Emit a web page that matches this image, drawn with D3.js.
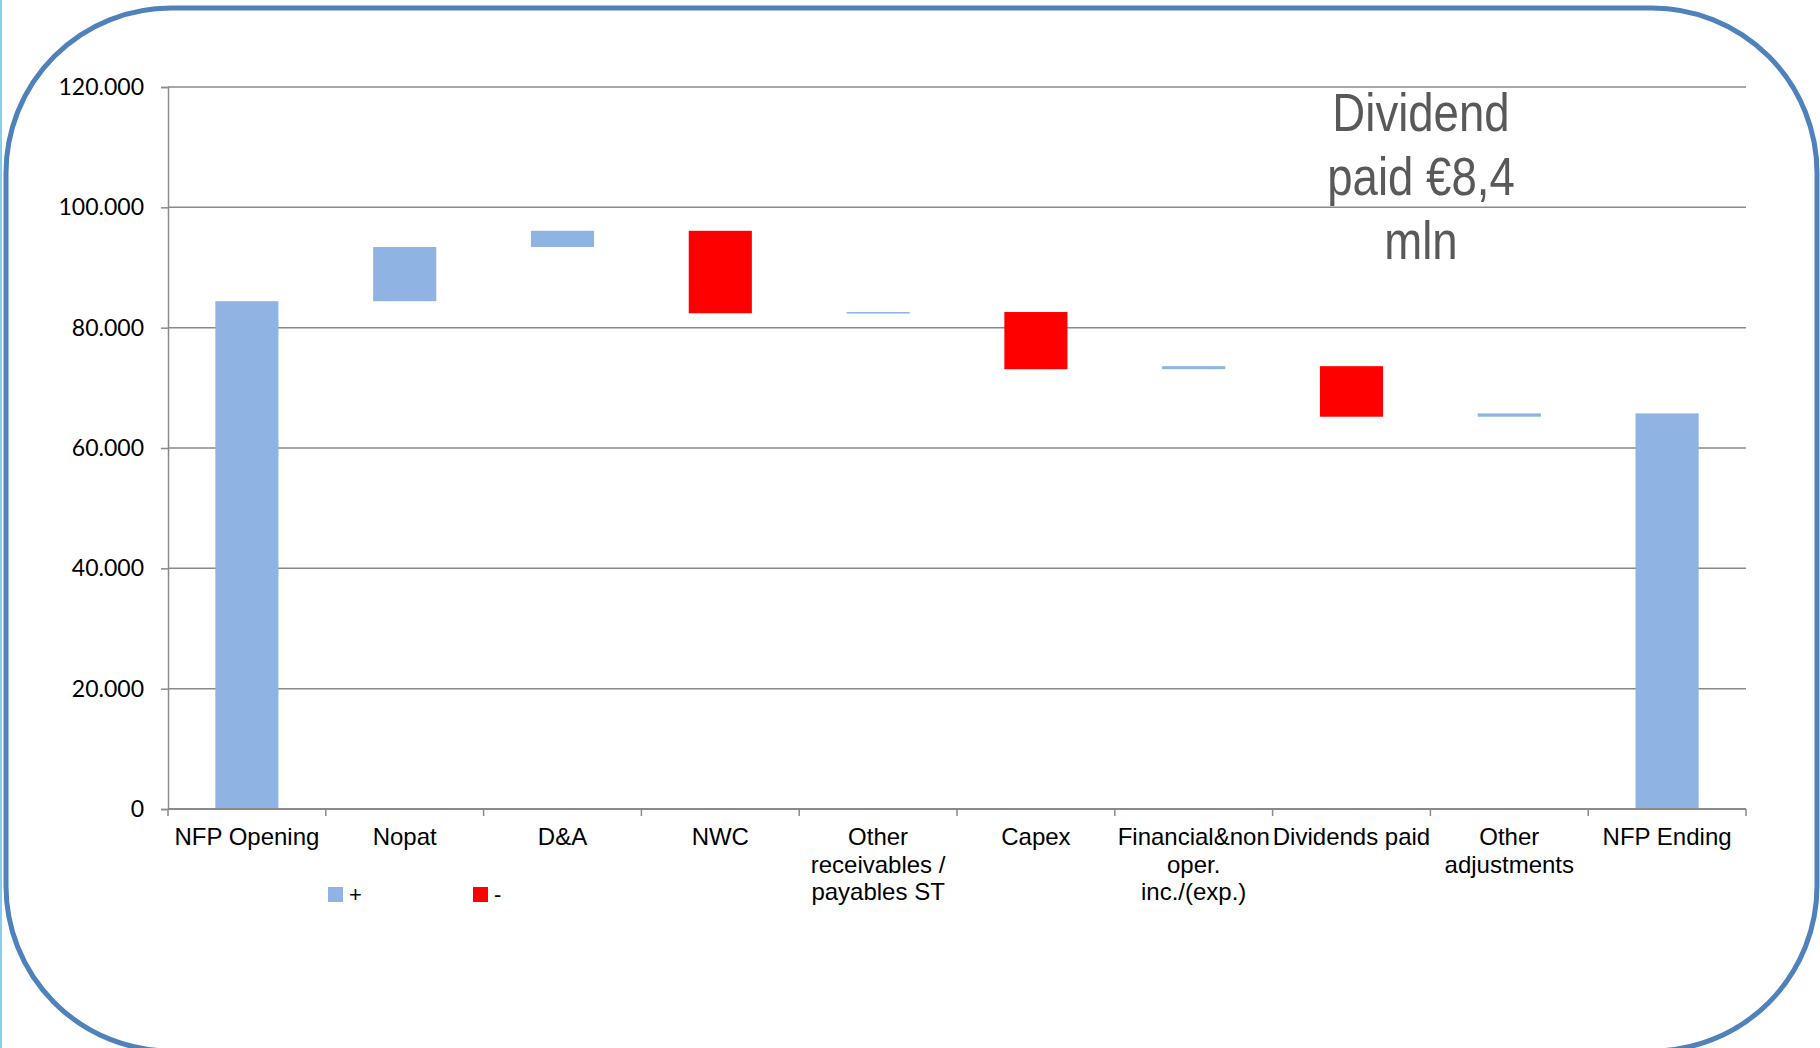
<!DOCTYPE html>
<html>
<head>
<meta charset="utf-8">
<script src="https://cdn.jsdelivr.net/npm/d3@7"></script>
<style>
  body { margin: 0; background: #fff; overflow: hidden; }
  svg { display: block; }
</style>
</head>
<body>
<figure style="margin:0"></figure>
<script>
let widthFigure = 1820;
let heightFigure = 1048;

// data (thousands of euro)
let categories = ['NFP Opening', 'Nopat', 'D&A', 'NWC', 'Other receivables / payables ST',
    'Capex', 'Financial&non oper. inc./(exp.)', 'Dividends paid', 'Other adjustments', 'NFP Ending'];
let labelLines = [['NFP Opening'], ['Nopat'], ['D&A'], ['NWC'], ['Other', 'receivables /', 'payables ST'],
    ['Capex'], ['Financial&non', 'oper.', 'inc./(exp.)'], ['Dividends paid'], ['Other', 'adjustments'], ['NFP Ending']];
let values = [84400, 9000, 2700, -13700, 200, -9500, 500, -8400, 550, 65750];
let kinds = ['total', 'step', 'step', 'step', 'step', 'step', 'step', 'step', 'step', 'total'];
let yTicks = [0, 20000, 40000, 60000, 80000, 100000, 120000];
let legendItems = ['+', '-'];
let note = ['Dividend', 'paid €8,4', 'mln'];

let blue = '#8fb3e2';
let red = '#ff0000';
let gridColor = '#8a8a8a';

let svg = d3.select('figure')
    .append('svg')
    .attr('width', widthFigure)
    .attr('height', heightFigure);

svg.append('rect')
    .attr('width', widthFigure)
    .attr('height', heightFigure)
    .attr('fill', '#fff');

// slide edge strip on the left
svg.append('rect')
    .attr('x', 0).attr('y', 0)
    .attr('width', 2).attr('height', heightFigure)
    .attr('fill', '#86cdf0');

// rounded frame (bottom edge runs just off the picture)
svg.append('rect')
    .attr('x', 6).attr('y', 8)
    .attr('width', 1811).attr('height', 1043)
    .attr('rx', 165).attr('ry', 165)
    .attr('fill', 'none')
    .attr('stroke', '#4f81bd')
    .attr('stroke-width', 5);

let xScale = d3.scaleBand()
    .domain(categories)
    .range([168, 1746])
    .paddingInner(0.6)
    .paddingOuter(0.3);

let yScale = d3.scaleLinear()
    .domain([0, 120000])
    .range([809, 87]);

let fmt = d3.formatLocale({ decimal: ',', thousands: '.', grouping: [3], currency: ['€', ''] }).format(',d');

// gridlines
svg.append('g')
    .selectAll('line')
    .data(yTicks.filter(d => d > 0))
    .enter()
    .append('line')
    .attr('x1', 168).attr('x2', 1746)
    .attr('y1', d => yScale(d)).attr('y2', d => yScale(d))
    .attr('stroke', gridColor)
    .attr('stroke-width', 1.5);

// y axis
let yAxis = svg.append('g')
    .attr('transform', 'translate(168,0)')
    .call(d3.axisLeft(yScale).tickValues(yTicks).tickFormat(fmt).tickSize(7).tickPadding(17));
yAxis.select('.domain').attr('stroke', gridColor).attr('stroke-width', 1.5);
yAxis.selectAll('.tick line').attr('stroke', gridColor).attr('stroke-width', 1.5);
yAxis.selectAll('.tick text')
    .attr('fill', '#000')
    .style('font-family', 'Lato, "Open Sans", sans-serif')
    .style('font-size', '23px');

// waterfall bars
let running = 0;
let bars = values.map((v, i) => {
    let y0, y1;
    if (kinds[i] == 'total') {
        y0 = 0; y1 = v; running = v;
    } else {
        y0 = running; y1 = running + v; running = y1;
    }
    return { cat: categories[i], lo: Math.min(y0, y1), hi: Math.max(y0, y1), neg: v < 0 };
});

svg.append('g')
    .selectAll('rect')
    .data(bars)
    .enter()
    .append('rect')
    .attr('x', d => xScale(d.cat))
    .attr('width', xScale.bandwidth())
    .attr('y', d => yScale(d.hi))
    .attr('height', d => Math.max(1.5, yScale(d.lo) - yScale(d.hi)))
    .attr('fill', d => d.neg ? red : blue);

// x axis line and ticks on category boundaries
let step = xScale.step();
let xAxis = svg.append('g');
xAxis.append('line')
    .attr('x1', 168).attr('x2', 1746)
    .attr('y1', 809).attr('y2', 809)
    .attr('stroke', gridColor)
    .attr('stroke-width', 2);
xAxis.selectAll('line.tick')
    .data(d3.range(categories.length + 1))
    .enter()
    .append('line')
    .attr('class', 'tick')
    .attr('x1', i => 168 + i * step).attr('x2', i => 168 + i * step)
    .attr('y1', 809).attr('y2', 816)
    .attr('stroke', gridColor)
    .attr('stroke-width', 1.5);

// category labels
let labels = svg.append('g')
    .selectAll('text')
    .data(categories)
    .enter()
    .append('text')
    .attr('x', d => xScale(d) + xScale.bandwidth() / 2)
    .attr('y', 845)
    .attr('text-anchor', 'middle')
    .style('font-family', '"Liberation Sans", Arial, sans-serif')
    .style('font-size', '24px')
    .attr('fill', '#000');
labels.selectAll('tspan')
    .data((d, i) => labelLines[i])
    .enter()
    .append('tspan')
    .attr('x', function() { return d3.select(this.parentNode).attr('x'); })
    .attr('dy', (d, i) => i == 0 ? 0 : 27.5)
    .text(d => d);

// legend
let legend = svg.append('g')
    .selectAll('g')
    .data(legendItems)
    .enter()
    .append('g')
    .attr('transform', (d, i) => `translate(${328 + i * 145},887)`);
legend.append('rect')
    .attr('width', 15).attr('height', 15)
    .attr('fill', (d, i) => i == 0 ? blue : red);
legend.append('text')
    .attr('x', 21).attr('y', 15)
    .style('font-family', '"Liberation Sans", Arial, sans-serif')
    .style('font-size', '22px')
    .attr('fill', '#000')
    .text(d => d);

// annotation
svg.append('g')
    .attr('transform', 'translate(1421,0) scale(0.86,1)')
    .selectAll('text')
    .data(note)
    .enter()
    .append('text')
    .attr('x', 0)
    .attr('y', (d, i) => 131 + i * 64)
    .attr('text-anchor', 'middle')
    .style('font-family', '"Liberation Sans", Arial, sans-serif')
    .style('font-size', '53px')
    .attr('fill', '#595959')
    .text(d => d);
</script>
</body>
</html>
